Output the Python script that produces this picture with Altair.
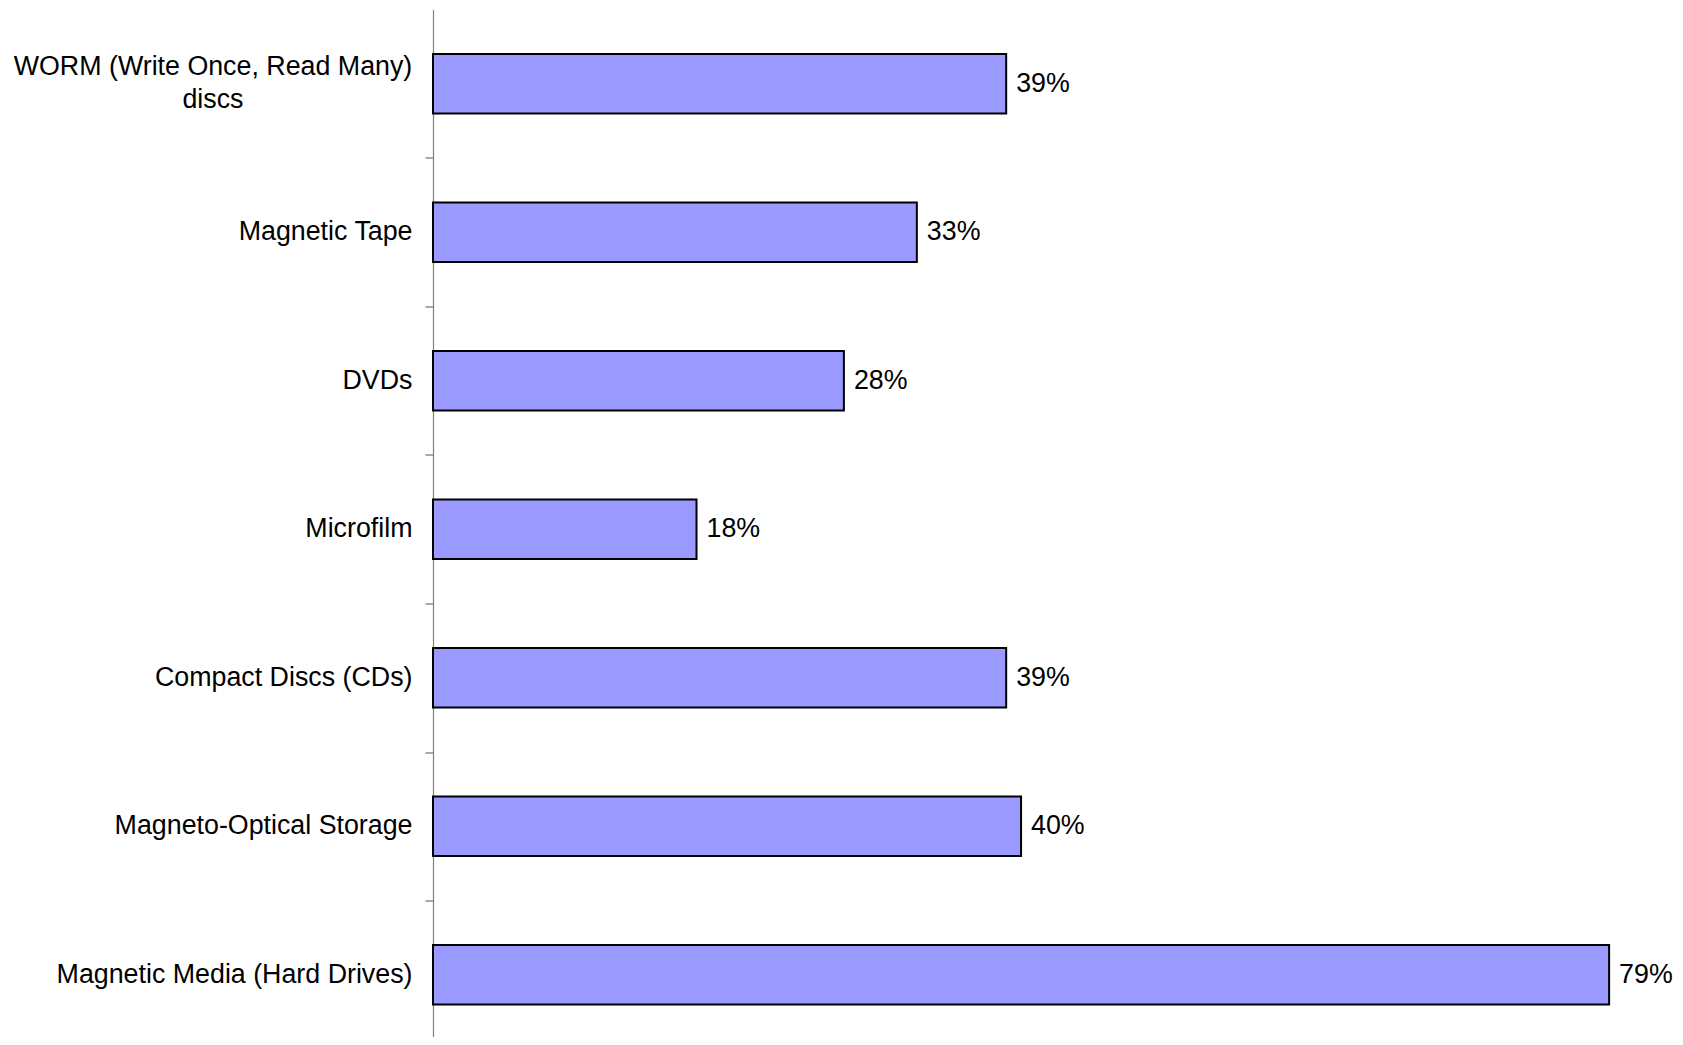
import altair as alt
import pandas as pd

categories = [
    "WORM (Write Once, Read Many)\ndiscs",
    "Magnetic Tape",
    "DVDs",
    "Microfilm",
    "Compact Discs (CDs)",
    "Magneto-Optical Storage",
    "Magnetic Media (Hard Drives)",
]
values = [38.5, 32.5, 27.6, 17.7, 38.5, 39.5, 79.0]
value_labels = ["39%", "33%", "28%", "18%", "39%", "40%", "79%"]
centered = [True, False, False, False, False, False, False]

df = pd.DataFrame({
    "category": categories,
    "value": values,
    "label": value_labels,
    "centered": centered,
})

FONT = "Liberation Sans"
FS = 26.8
BAND_RANGE = 1039.5
STEP = BAND_RANGE / len(categories)

y_scale = alt.Scale(paddingInner=0.6, paddingOuter=0.3, range=[0, BAND_RANGE])

y_enc = alt.Y(
    "category:N",
    sort=categories,
    scale=y_scale,
    axis=alt.Axis(
        labels=False, title=None, ticks=True, tickSize=8, tickOffset=STEP / 2,
        tickColor="#707070", domainColor="#808080", domainWidth=1.2, tickWidth=1.2,
        grid=False,
    ),
)
x_scale = alt.Scale(domain=[0, 80], nice=False)
x_enc = alt.X("value:Q", scale=x_scale, axis=None)

base = alt.Chart(df)

bars = base.mark_bar(fill="#9999FF", stroke="#000000", strokeWidth=2).encode(
    y=y_enc, x=x_enc
)

pct = base.mark_text(align="left", baseline="middle", dx=10, font=FONT, fontSize=FS, color="#000000").encode(
    y=alt.Y("category:N", sort=categories),
    x=alt.X("value:Q", scale=x_scale, axis=None),
    text="label:N",
)

cat_right = base.transform_filter("!datum.centered").mark_text(
    align="right", baseline="middle", font=FONT, fontSize=FS, color="#000000"
).encode(
    y=alt.Y("category:N", sort=categories), x=alt.value(-20.5), text="category:N"
)

cat_center = base.transform_filter("datum.centered").mark_text(
    align="center", baseline="middle", font=FONT, fontSize=FS, color="#000000",
    lineBreak="\n", lineHeight=33, dy=-16.5,
).encode(
    y=alt.Y("category:N", sort=categories), x=alt.value(-220), text="category:N"
)

chart = alt.layer(bars, pct, cat_right, cat_center).properties(
    width=1191,
    height=1027.5,
    background="white",
    autosize=alt.AutoSizeParams(type="none"),
    padding={"left": 425, "top": 1.5, "right": 51, "bottom": 0},
).configure_view(stroke=None, strokeWidth=0)

chart.save("out.html", embed_options={"renderer": "svg", "actions": False})
